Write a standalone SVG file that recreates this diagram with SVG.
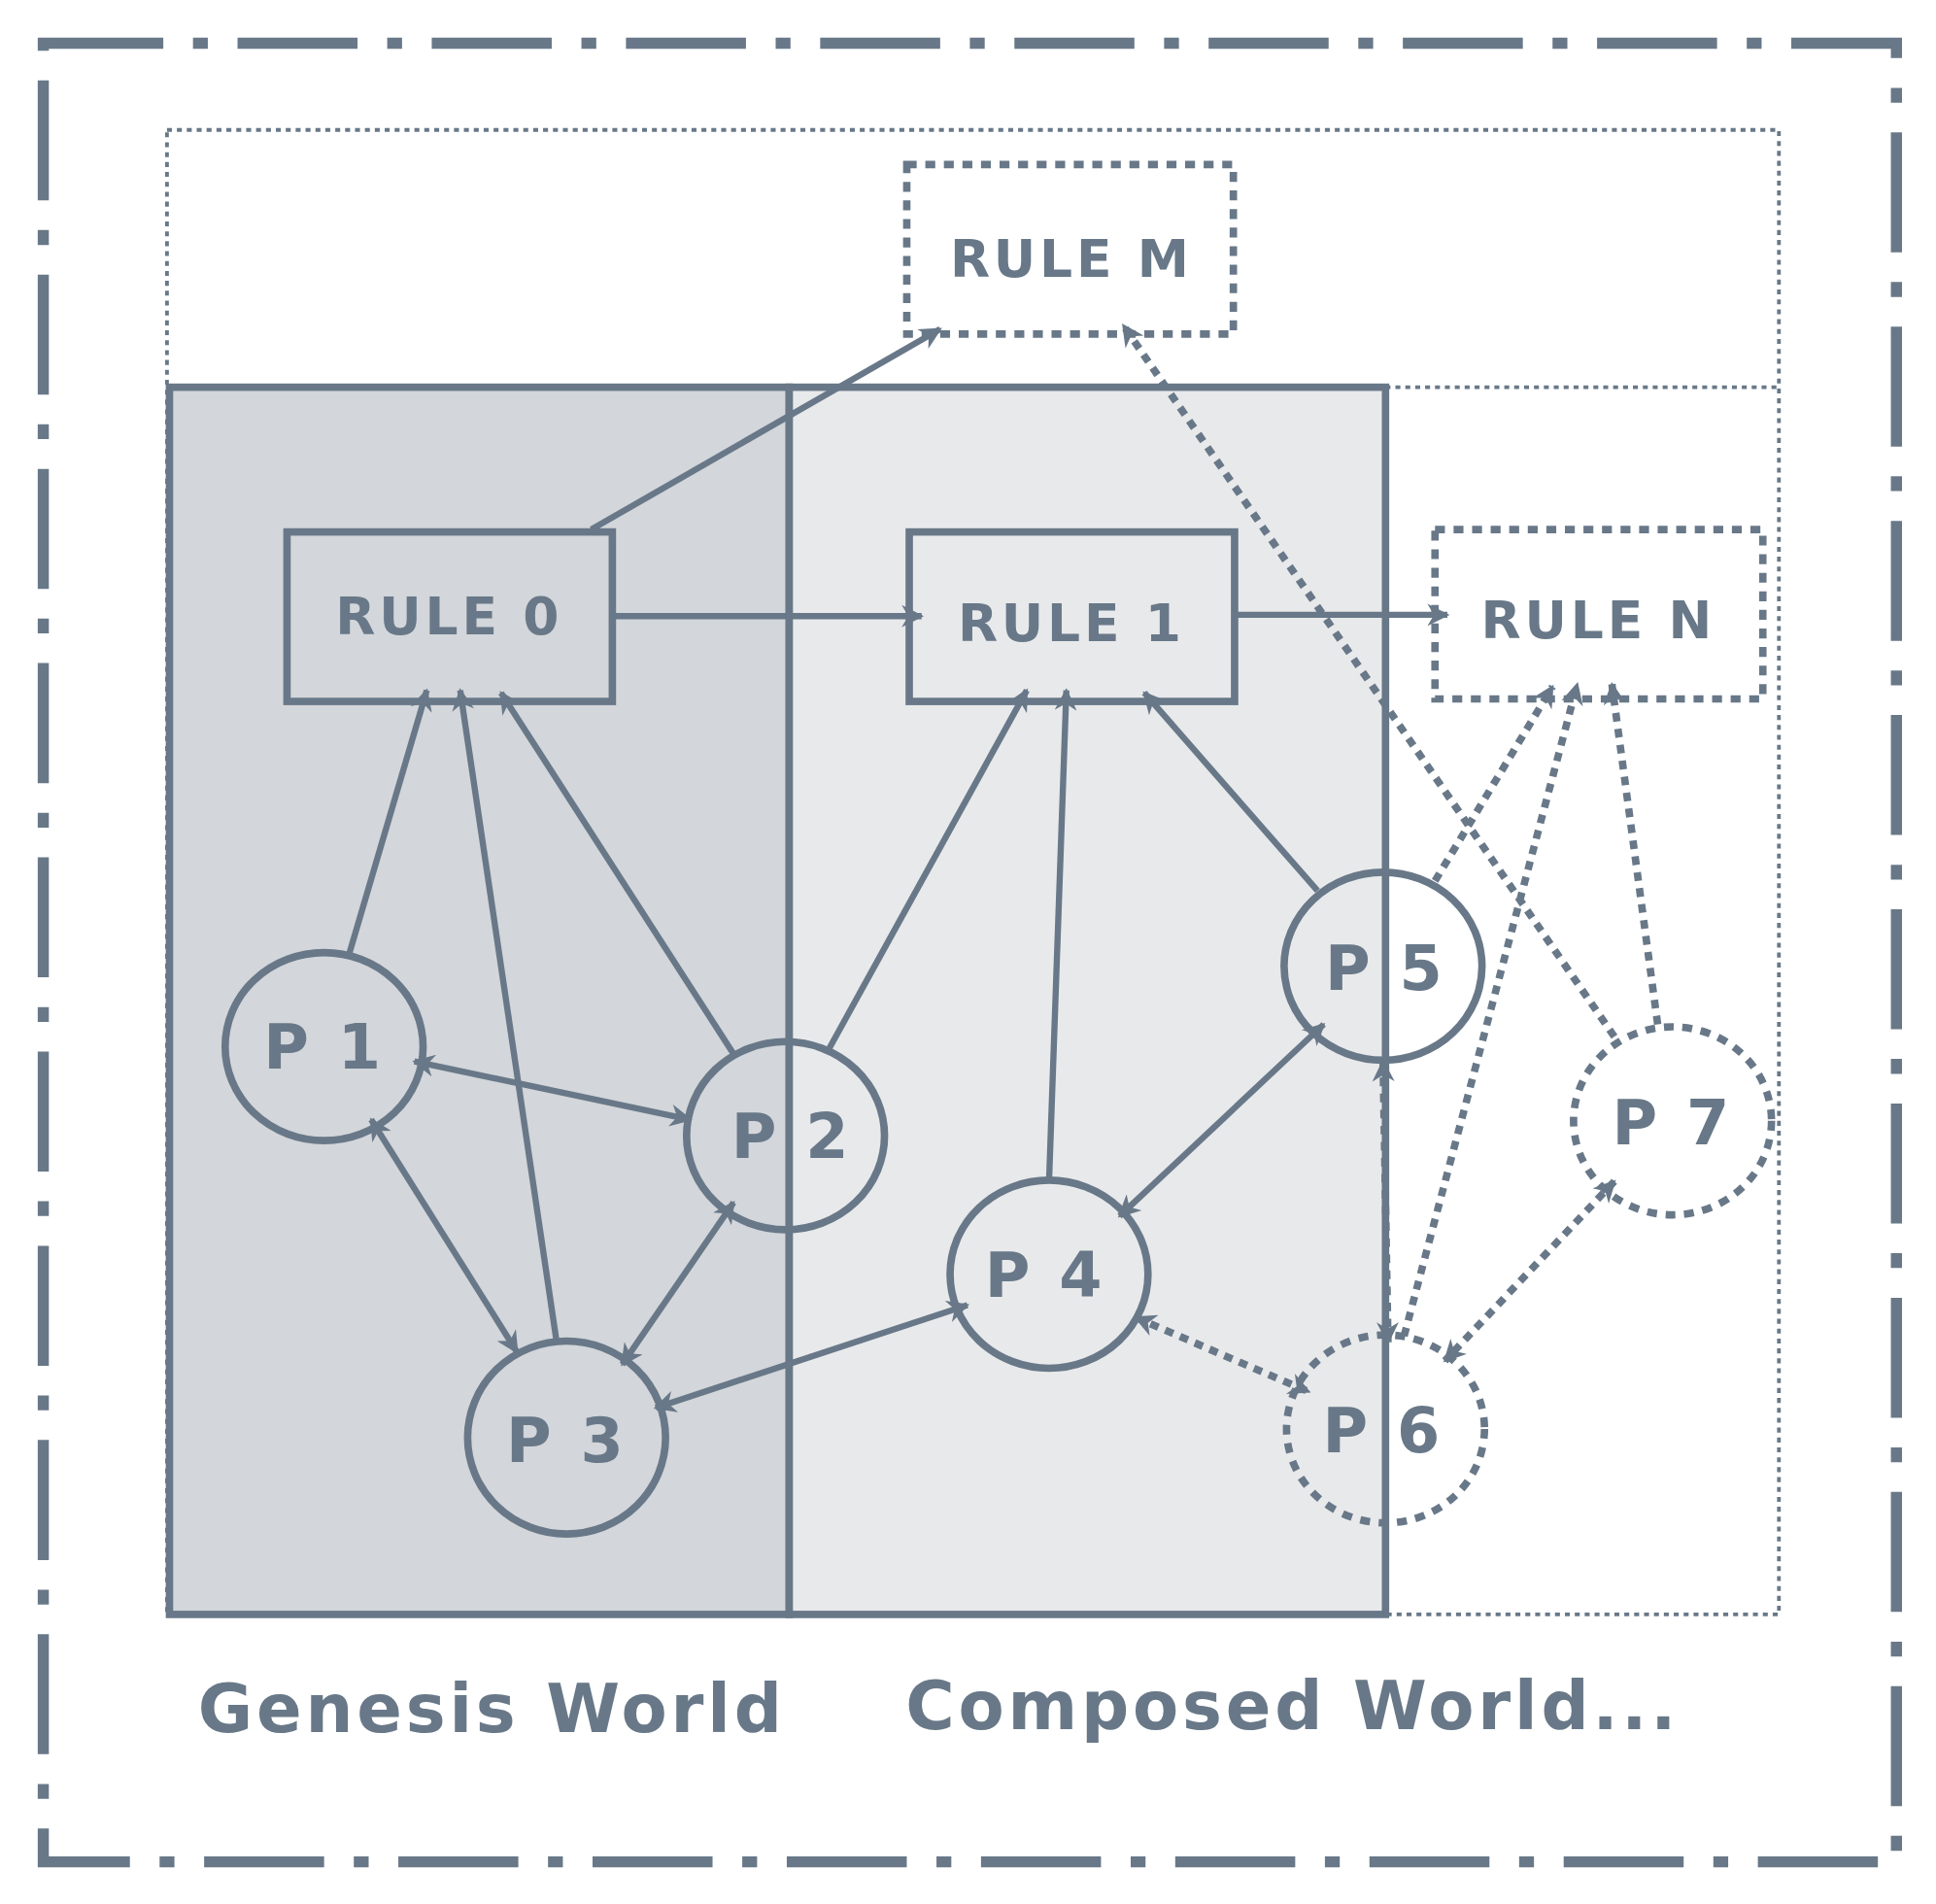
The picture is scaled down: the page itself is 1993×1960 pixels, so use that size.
<svg xmlns="http://www.w3.org/2000/svg" width="1993" height="1960" viewBox="0 0 1993 1960">
<style>
.s{stroke:#687888;fill:none}
.e{stroke:#687888;stroke-width:5;fill:none}
.d{stroke:#687888;stroke-width:6;fill:none;stroke-dasharray:7 6}
.lb{font-family:"DejaVu Sans",sans-serif;font-weight:bold;fill:#687888;letter-spacing:3px}
.n{stroke:#687888;stroke-width:6;fill:none}
.nd{stroke:#687888;stroke-width:6;fill:none;stroke-dasharray:8 7}
</style>
<defs>
<marker id="a" viewBox="0 0 10 10" refX="9" refY="5" markerWidth="22" markerHeight="18" markerUnits="userSpaceOnUse" orient="auto-start-reverse"><path d="M0,0 L10,5 L0,10 L3,5 z" fill="#687888"/></marker>
</defs>
<rect width="1993" height="1960" fill="#fff"/>
<g transform="scale(1.2735)">
<rect x="35" y="35" width="1498" height="1470" class="s" stroke-width="9" stroke-dasharray="97 24 12 24"/>
<rect x="135" y="105" width="1303" height="1200" class="s" stroke-width="3" stroke-dasharray="4 4"/>
<line x1="1120" y1="313" x2="1438" y2="313" class="s" stroke-width="3" stroke-dasharray="4 4"/>
<rect x="137" y="313" width="501" height="992" fill="#d3d6da" stroke="#687888" stroke-width="6"/>
<rect x="638" y="313" width="482" height="992" fill="#e8e9eb" stroke="#687888" stroke-width="6"/>
<g id="connectors">
<line class="e" x1="282" y1="772" x2="345" y2="558" marker-end="url(#a)"/>
<line class="e" x1="450" y1="1085" x2="372" y2="558" marker-end="url(#a)"/>
<line class="e" x1="593" y1="852" x2="405" y2="560" marker-end="url(#a)"/>
<line class="e" x1="335" y1="858" x2="558" y2="905" marker-start="url(#a)" marker-end="url(#a)"/>
<line class="e" x1="300" y1="905" x2="418" y2="1093" marker-start="url(#a)" marker-end="url(#a)"/>
<line class="e" x1="593" y1="972" x2="503" y2="1103" marker-start="url(#a)" marker-end="url(#a)"/>
<line class="e" x1="530" y1="1138" x2="782" y2="1055" marker-start="url(#a)" marker-end="url(#a)"/>
<line class="e" x1="670" y1="848" x2="830" y2="558" marker-end="url(#a)"/>
<line class="e" x1="848" y1="955" x2="862" y2="558" marker-end="url(#a)"/>
<line class="e" x1="1065" y1="720" x2="925" y2="560" marker-end="url(#a)"/>
<line class="e" x1="905" y1="983" x2="1070" y2="828" marker-start="url(#a)" marker-end="url(#a)"/>
<line class="e" x1="478" y1="428" x2="760" y2="266" marker-end="url(#a)"/>
<line class="e" x1="495" y1="498" x2="745" y2="498" marker-end="url(#a)"/>
<line class="e" x1="998" y1="497" x2="1170" y2="497" marker-end="url(#a)"/>
<line class="d" x1="1305" y1="838" x2="908" y2="263" marker-end="url(#a)"/>
<line class="d" x1="1160" y1="712" x2="1255" y2="555" marker-end="url(#a)"/>
<line class="d" x1="1135" y1="1080" x2="1275" y2="553" marker-end="url(#a)"/>
<line class="d" x1="1340" y1="828" x2="1303" y2="553" marker-end="url(#a)"/>
<line class="d" x1="918" y1="1065" x2="1058" y2="1125" marker-start="url(#a)" marker-end="url(#a)"/>
<line class="d" x1="1118" y1="858" x2="1122" y2="1085" marker-start="url(#a)" marker-end="url(#a)"/>
<line class="d" x1="1305" y1="955" x2="1168" y2="1100" marker-start="url(#a)" marker-end="url(#a)"/>
</g>
<g id="rule0"><rect x="232" y="430" width="263" height="137" class="n"/><text class="lb" x="363" y="513" font-size="42" text-anchor="middle">RULE 0</text></g>
<g id="rule1"><rect x="735" y="430" width="263" height="137" class="n"/><text class="lb" x="866" y="518" font-size="42" text-anchor="middle">RULE 1</text></g>
<g id="ruleN"><rect x="1160" y="428" width="265" height="137" class="nd"/><text class="lb" x="1292" y="516" font-size="42" text-anchor="middle">RULE N</text></g>
<g id="ruleM"><rect x="733" y="133" width="264" height="137" class="nd"/><text class="lb" x="866" y="224" font-size="42" text-anchor="middle">RULE M</text></g>
<g id="p1"><ellipse cx="262" cy="846" rx="80" ry="76" class="n"/><text class="lb" x="262" y="864" font-size="50" text-anchor="middle">P 1</text></g>
<g id="p2"><ellipse cx="635" cy="918" rx="80" ry="76" class="n"/><text class="lb" x="640" y="936" font-size="50" text-anchor="middle">P 2</text></g>
<g id="p3"><ellipse cx="458" cy="1162" rx="80" ry="78" class="n"/><text class="lb" x="458" y="1182" font-size="50" text-anchor="middle">P 3</text></g>
<g id="p4"><ellipse cx="848" cy="1030" rx="80" ry="76" class="n"/><text class="lb" x="845" y="1048" font-size="50" text-anchor="middle">P 4</text></g>
<g id="p5"><ellipse cx="1118" cy="781" rx="80" ry="76" class="n"/><text class="lb" x="1120" y="800" font-size="50" text-anchor="middle">P 5</text></g>
<g id="p6"><ellipse cx="1120" cy="1155" rx="80" ry="76" class="nd"/><text class="lb" x="1118" y="1174" font-size="50" text-anchor="middle">P 6</text></g>
<g id="p7"><ellipse cx="1352" cy="906" rx="80" ry="76" class="nd"/><text class="lb" x="1352" y="925" font-size="50" text-anchor="middle">P 7</text></g>
<text class="lb" x="160" y="1400" font-size="54">Genesis World</text>
<text class="lb" x="732" y="1398" font-size="54">Composed World...</text>
</g>
</svg>
